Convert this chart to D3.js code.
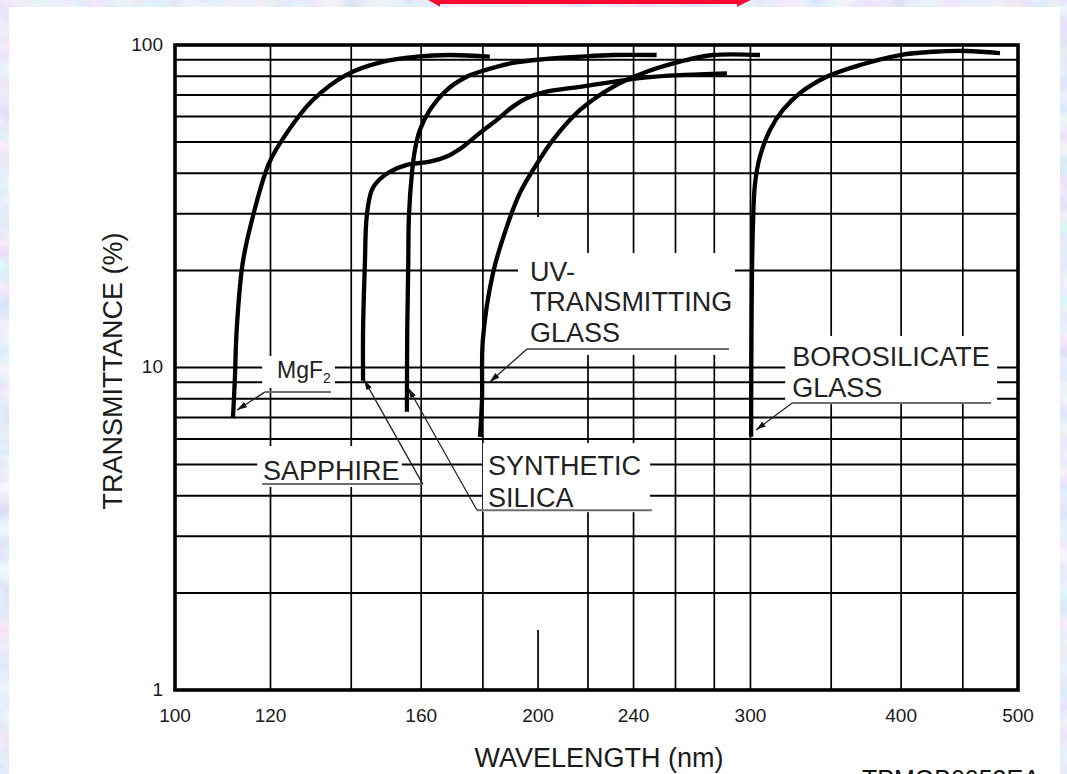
<!DOCTYPE html>
<html>
<head>
<meta charset="utf-8">
<script src="https://cdn.jsdelivr.net/npm/d3@7"></script>
<style>
  html, body { margin: 0; padding: 0; background: #fff; }
  svg { display: block; }
  text { font-family: "Liberation Sans", Arial, Helvetica, sans-serif; }
</style>
</head>
<body>
<svg id="chart" width="1067" height="774"></svg>
<script>
// Spectral transmittance of PMT window materials: [wavelength nm, transmittance %]
const mgf2 = [[111.7,6.97],[112.1,9.15],[112.5,13.1],[113.8,21.1],[116.0,29.3],[119.7,43.1],
  [123.8,53.4],[130.1,67.5],[138.6,80.7],[148.8,88.8],[158.6,92.0],[169.0,93.1],[182.4,92.0]];
const sapphire = [[143.2,9.1],[143.2,13.1],[143.7,21.1],[144.2,29.4],[145.6,35.5],[147.9,38.4],
  [150.8,40.5],[155.7,42.5],[162.7,43.5],[168.0,45.1],[173.3,48.4],[179.0,53.4],[184.8,58.5],
  [190.6,64.4],[196.9,69.1],[203.3,71.7],[216.7,74.2],[230.8,76.9],[246.1,79.4],[262.3,80.7],[286.8,81.7]];
const syntheticSilica = [[155.7,7.29],[155.8,13.1],[156.1,21.1],[156.3,29.4],[157.2,40.1],[158.1,47.3],
  [159.6,54.5],[162.7,62.9],[168.0,72.5],[174.5,79.7],[179.0,82.6],[190.6,88.0],[203.3,90.5],
  [216.7,92.0],[230.8,93.1],[250.8,93.1]];
const uvGlass = [[179.0,6.09],[179.7,7.93],[180.0,12.2],[183.5,19.6],[188.4,27.3],[193.2,34.8],
  [198.1,41.0],[205.8,50.8],[216.7,62.9],[230.8,74.2],[246.1,82.6],[262.3,88.8],[279.3,93.1],[305.5,93.1]];
const borosilicate = [[300.4,6.1],[300.5,10.0],[300.8,18.0],[301.4,27.0],[302.6,37.0],[305.5,45.1],
  [311.4,54.5],[319.2,62.9],[329.8,71.0],[347.0,79.7],[369.8,86.7],[399.2,93.1],[425.1,95.3],
  [453.4,95.8],[483.1,94.3]];

const xTickLabels = [100, 120, 160, 200, 240, 300, 400, 500];
const yTickLabels = [1, 10, 100];
const xGridValues = [120, 140, 160, 180, 200, 220, 240, 260, 280, 300, 350, 400, 450];
const yGridValues = [2, 3, 4, 5, 6, 7, 8, 9, 10, 20, 30, 40, 50, 60, 70, 80, 90];

// Callout labels, placed in data coordinates (nm, %)
const callouts = [
  { lines: [["MgF", 9.28]], sub: "2", textAt: 121.5, size: 23,
    box: [118.1, 135.7, 8.64, 10.86], rule: [118.7, 134.7, 8.39], from: [118.7, 8.39], tip: [112.6, 7.38] },
  { lines: [["SAPPHIRE", 4.48]], textAt: 118.3, size: 27,
    box: [117.0, 154.2, 4.26, 5.71], rule: [118.1, 160.5, 4.35], from: [160.5, 4.35], tip: [143.5, 9.15] },
  { lines: [["SYNTHETIC", 4.64], ["SILICA", 3.69]], textAt: 181.8, size: 27,
    box: [180.0, 247.7, 3.56, 5.83], rule: [178.0, 248.6, 3.61], from: [178.0, 3.61], tip: [156.1, 8.64] },
  { lines: [["UV-", 18.54], ["TRANSMITTING", 14.97], ["GLASS", 12.0]], textAt: 196.9, size: 27,
    box: [192.5, 291.3, 10.94, 22.65], rule: [195.8, 288.0, 11.41], from: [195.8, 11.41], tip: [182.4, 9.02] },
  { lines: [["BOROSILICATE", 10.11], ["GLASS", 8.10]], textAt: 324.9, size: 27,
    box: [320.6, 480.4, 7.70, 12.53], rule: [324.9, 475.0, 7.76], from: [324.9, 7.76], tip: [303.2, 6.40] }
];

const svg = d3.select("#chart");
const x = d3.scaleLog().domain([100, 500]).range([175, 1018]);
const y = d3.scaleLog().domain([1, 100]).range([690, 45]);

const defs = svg.append("defs");
const paper = defs.append("filter").attr("id", "paper")
  .attr("x", 0).attr("y", 0).attr("width", "100%").attr("height", "100%");
paper.append("feTurbulence").attr("type", "fractalNoise")
  .attr("baseFrequency", "0.035 0.05").attr("numOctaves", 3).attr("seed", 7);
paper.append("feColorMatrix").attr("type", "matrix")
  .attr("values", "0.5 0 0 0 0.56  0 0.35 0 0 0.66  0 0 0.2 0 0.85  0 0 0 0 1");

defs.append("marker").attr("id", "arrow")
  .attr("viewBox", "0 0 10 6").attr("refX", 10).attr("refY", 3)
  .attr("markerWidth", 11).attr("markerHeight", 6)
  .attr("markerUnits", "userSpaceOnUse").attr("orient", "auto")
  .append("path").attr("d", "M0,0 L10,3 L0,6 Z").attr("fill", "#111");

// slide backdrop and white page
svg.append("rect").attr("width", 1067).attr("height", 774).attr("filter", "url(#paper)");
svg.append("rect").attr("x", 9).attr("y", 7).attr("width", 1051).attr("height", 767).attr("fill", "#fff");

// red double-headed arrow along the top edge
svg.append("path")
  .attr("d", "M421,-4 L440,-15 L440,-12 L737,-12 L737,-15 L759,-4 L737,6.7 L737,4 L440,4 L440,6.7 Z")
  .attr("fill", "#fa0a32");

const plot = svg.append("g");

// vertical rules; the 200 nm rule only runs above 29.3 % and below 1.535 %
const vSegments = xGridValues.flatMap(v => v === 200
  ? [[v, 100, 29.3], [v, 1.535, 1]]
  : [[v, 100, 1]]);
plot.append("g").selectAll("line").data(vSegments).join("line")
  .attr("x1", d => x(d[0])).attr("x2", d => x(d[0]))
  .attr("y1", d => y(d[1])).attr("y2", d => y(d[2]))
  .attr("stroke", "#000").attr("stroke-width", 1.7);
plot.append("g").selectAll("line").data(yGridValues).join("line")
  .attr("x1", x(100)).attr("x2", x(500))
  .attr("y1", d => y(d)).attr("y2", d => y(d))
  .attr("stroke", "#000").attr("stroke-width", 2);

// white label panels interrupt the grid
plot.append("g").attr("fill", "#fff")
  .selectAll("rect").data(callouts).join("rect")
  .attr("x", d => x(d.box[0])).attr("width", d => x(d.box[1]) - x(d.box[0]))
  .attr("y", d => y(d.box[3])).attr("height", d => y(d.box[2]) - y(d.box[3]));

// transmittance curves
const line = d3.line().x(d => x(d[0])).y(d => y(d[1])).curve(d3.curveCatmullRom.alpha(0.5));
plot.append("g").selectAll("path")
  .data([mgf2, sapphire, syntheticSilica, uvGlass, borosilicate]).join("path")
  .attr("d", line).attr("fill", "none").attr("stroke", "#000")
  .attr("stroke-width", 4.3).attr("stroke-linejoin", "round").attr("stroke-linecap", "butt");

// callouts: underline, leader arrow and text
const co = plot.append("g").selectAll("g").data(callouts).join("g");
co.append("line")
  .attr("x1", d => x(d.rule[0])).attr("x2", d => x(d.rule[1]))
  .attr("y1", d => y(d.rule[2])).attr("y2", d => y(d.rule[2]))
  .attr("stroke", "#6e6e6e").attr("stroke-width", 2);
co.append("line")
  .attr("x1", d => x(d.from[0])).attr("y1", d => y(d.from[1]))
  .attr("x2", d => x(d.tip[0])).attr("y2", d => y(d.tip[1]))
  .attr("stroke", "#222").attr("stroke-width", 1.3).attr("marker-end", "url(#arrow)");
co.each(function (d) {
  const g = d3.select(this);
  d.lines.forEach(([txt, t]) => {
    const el = g.append("text")
      .attr("x", x(d.textAt)).attr("y", y(t))
      .attr("font-size", d.size).attr("fill", "#222").text(txt);
    if (d.sub) {
      el.append("tspan").attr("font-size", 14).attr("dy", 5).text(d.sub);
    }
  });
});

// frame
plot.append("rect")
  .attr("x", x(100)).attr("y", y(100))
  .attr("width", x(500) - x(100)).attr("height", y(1) - y(100))
  .attr("fill", "none").attr("stroke", "#000").attr("stroke-width", 3.6);

// tick labels
plot.append("g").selectAll("text").data(xTickLabels).join("text")
  .attr("x", d => x(d)).attr("y", 722)
  .attr("text-anchor", "middle").attr("font-size", 19).attr("fill", "#1a1a1a")
  .text(d => d);
plot.append("g").selectAll("text").data(yTickLabels).join("text")
  .attr("x", 163).attr("y", d => y(d)).attr("dy", "0.3em")
  .attr("text-anchor", "end").attr("font-size", 19).attr("fill", "#1a1a1a")
  .text(d => d);

// axis titles
svg.append("text").attr("x", 599).attr("y", 767)
  .attr("text-anchor", "middle").attr("font-size", 27).attr("fill", "#1a1a1a")
  .text("WAVELENGTH (nm)");
svg.append("text").attr("transform", "translate(122,371) rotate(-90)")
  .attr("text-anchor", "middle").attr("font-size", 27).attr("fill", "#1a1a1a")
  .text("TRANSMITTANCE (%)");

// drawing reference number, running off the bottom of the page
svg.append("text").attr("x", 862).attr("y", 788)
  .attr("font-size", 25).attr("fill", "#111").text("TPMOB0053EA");
</script>
</body>
</html>
